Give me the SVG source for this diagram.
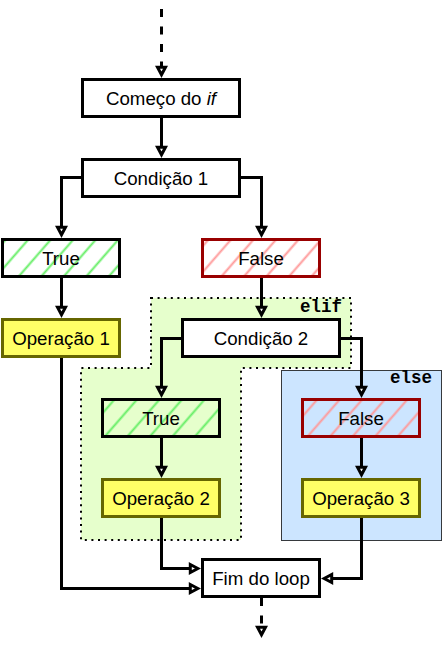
<svg xmlns="http://www.w3.org/2000/svg" width="442" height="649" viewBox="0 0 442 649">
<defs>
<style>
.box{fill:#ffffff;stroke:#000000;stroke-width:3}
.op{fill:#ffff66;stroke:#666600;stroke-width:3}
.tr{fill:url(#hatchG);stroke:#000000;stroke-width:3}
.fa{fill:url(#hatchR);stroke:#990000;stroke-width:3}
.lbl{font-family:"Liberation Sans",Arial,sans-serif;font-size:18.7px;fill:#000000;text-anchor:middle}
.tag{font-family:"Liberation Mono","Courier New",monospace;font-size:17.5px;font-weight:bold;fill:#000000;text-anchor:end}
.edge{fill:none;stroke:#000000;stroke-width:3;marker-end:url(#arr)}
.dash{stroke-dasharray:8 9.5}
</style>
<pattern id="hatchG" patternUnits="userSpaceOnUse" width="17" height="17" patternTransform="rotate(41)">
<line x1="8.5" y1="-1" x2="8.5" y2="18" stroke="#66ee66" stroke-width="2"/>
</pattern>
<pattern id="hatchR" patternUnits="userSpaceOnUse" width="17" height="17" patternTransform="rotate(41)">
<line x1="8.5" y1="-1" x2="8.5" y2="18" stroke="#ff9999" stroke-width="2"/>
</pattern>
<marker id="arr" markerUnits="userSpaceOnUse" markerWidth="20" markerHeight="20" viewBox="-4 -4 20 20" refX="0" refY="4" orient="auto" overflow="visible">
<path d="M0,0 L7.5,4 L0,8 Z" fill="#ffffff" stroke="#000000" stroke-width="3"/>
</marker>
</defs>

<g id="regions">
<path id="elif-region" d="M151,298 H351 V368 H241 V540 H81 V368 H151 Z" fill="#e6ffcc" stroke="#000000" stroke-width="2" stroke-dasharray="2 4.6"/>
<text class="tag" x="342" y="312">elif</text>
<rect id="else-region" x="281.5" y="370.5" width="160" height="170" fill="#cce5ff" stroke="#36393d" stroke-width="1"/>
<text class="tag" x="432" y="383">else</text>
</g>

<g id="connectors">
<path class="edge dash" d="M161.5,9 V67.3"/>
<path class="edge" d="M161.5,118 V147.3"/>
<path class="edge" d="M81,177.5 H61.5 V227.3"/>
<path class="edge" d="M241,177.5 H261.5 V227.3"/>
<path class="edge" d="M61.5,278 V307.3"/>
<path class="edge" d="M261.5,278 V307.3"/>
<path class="edge" d="M181,338.5 H161.5 V387.3"/>
<path class="edge" d="M341,338.5 H361.5 V387.3"/>
<path class="edge" d="M161.5,438 V467.3"/>
<path class="edge" d="M361.5,438 V467.3"/>
<path class="edge" d="M161.5,518 V568.5 H190.3"/>
<path class="edge" d="M61.5,358 V588.5 H190.3"/>
<path class="edge" d="M361.5,518 V578.5 H331.7"/>
<path class="edge dash" d="M261.5,598 V627.3"/>
</g>

<g id="comeco">
<rect class="box" x="82.5" y="79.5" width="157" height="37"/>
<text class="lbl" x="161" y="104.5">Começo do <tspan font-style="italic">if</tspan></text>
</g>
<g id="condicao1">
<rect class="box" x="82.5" y="159.5" width="157" height="37"/>
<text class="lbl" x="161" y="184.5">Condição 1</text>
</g>
<g id="true1">
<rect class="tr" x="2.5" y="239.5" width="117" height="37"/>
<text class="lbl" x="61" y="264.5">True</text>
</g>
<g id="false1">
<rect class="fa" x="202.5" y="239.5" width="117" height="37"/>
<text class="lbl" x="261" y="264.5">False</text>
</g>
<g id="operacao1">
<rect class="op" x="2.5" y="319.5" width="117" height="37"/>
<text class="lbl" x="61" y="344.5">Operação 1</text>
</g>
<g id="condicao2">
<rect class="box" x="182.5" y="319.5" width="157" height="37"/>
<text class="lbl" x="261" y="344.5">Condição 2</text>
</g>
<g id="true2">
<rect class="tr" x="102.5" y="399.5" width="117" height="37"/>
<text class="lbl" x="161" y="424.5">True</text>
</g>
<g id="false2">
<rect class="fa" x="302.5" y="399.5" width="117" height="37"/>
<text class="lbl" x="361" y="424.5">False</text>
</g>
<g id="operacao2">
<rect class="op" x="102.5" y="479.5" width="117" height="37"/>
<text class="lbl" x="161" y="504.5">Operação 2</text>
</g>
<g id="operacao3">
<rect class="op" x="302.5" y="479.5" width="117" height="37"/>
<text class="lbl" x="361" y="504.5">Operação 3</text>
</g>
<g id="fim">
<rect class="box" x="202.5" y="559.5" width="117" height="37"/>
<text class="lbl" x="261" y="584.5">Fim do loop</text>
</g>
</svg>
